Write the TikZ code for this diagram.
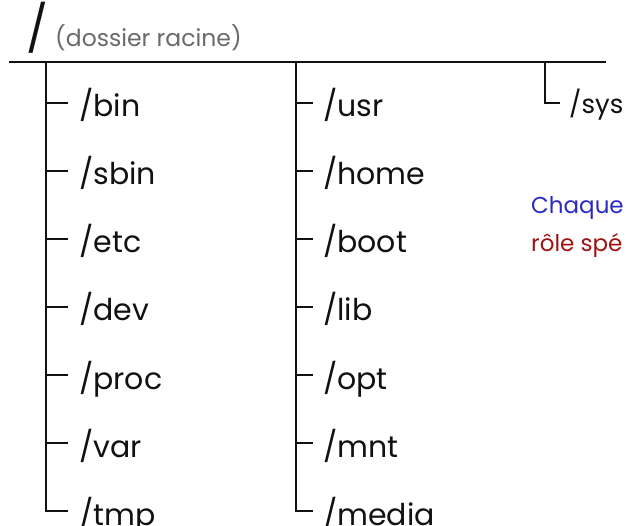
\documentclass[tikz,border=0pt]{standalone}
\usepackage{fontspec}
\setmainfont{Poppins}
\definecolor{ink}{HTML}{111111}
\definecolor{greytxt}{HTML}{6A6A6A}
\definecolor{bluetxt}{HTML}{2B2BC4}
\definecolor{redtxt}{HTML}{A01212}
\tikzset{
  dir/.style={anchor=base west, inner sep=0pt, font=\fontsize{30}{32}\selectfont, text=ink},
  trunk/.style={draw=ink, line width=1.8pt},
  tick/.style={draw=ink, line width=1.4pt},
  note/.style={anchor=base west, inner sep=0pt, font=\fontsize{23}{25}\selectfont}
}
\begin{document}
\begin{tikzpicture}[x=1pt,y=-1pt]
\useasboundingbox (0,0) rectangle (626,526);
\clip (0,0) rectangle (626,526);
\fill[white] (0,0) rectangle (626,526);
% root
\node[anchor=base west, inner sep=0pt, font=\fontsize{46}{48}\selectfont, text=ink] (root) at (26,46) {/};
\node[anchor=base west, inner sep=0pt, font=\fontsize{23.5}{25}\selectfont, text=greytxt] (rootlbl) at (55,47) {(dossier racine)};
\coordinate (hl) at (9,62);
\coordinate (hr) at (606,62);
\draw[trunk] (hl) -- (hr);
% column 1
\coordinate (c1) at (46,62);
\foreach \name/\i in {bin/0,sbin/1,etc/2,dev/3,proc/4,var/5,tmp/6}{
  \coordinate (t-\name) at (68,103+68*\i);
  \node[dir] (n-\name) at (79,117+68*\i) {/\name};
}
\draw[trunk] (c1) |- (t-tmp);
\foreach \name in {bin,sbin,etc,dev,proc,var}{
  \draw[tick] (c1 |- t-\name) -- (t-\name);
}
% column 2
\coordinate (c2) at (296,62);
\foreach \name/\i in {usr/0,home/1,boot/2,lib/3,opt/4,mnt/5,media/6}{
  \coordinate (t-\name) at (313,103+68*\i);
  \node[dir] (n-\name) at (323,117+68*\i) {/\name};
}
\draw[trunk] (c2) |- (t-media);
\foreach \name in {usr,home,boot,lib,opt,mnt}{
  \draw[tick] (c2 |- t-\name) -- (t-\name);
}
% column 3
\coordinate (c3) at (545,62);
\coordinate (t-sys) at (560,103);
\node[dir, font=\fontsize{26}{28}\selectfont] (n-sys) at (569,114) {/sys};
\draw[tick] (c3) |- (t-sys);
% note
\node[note, text=bluetxt] (note1) at (531,214) {Chaque};
\node[note, text=redtxt] (note2) at (531,252) {rôle spé};
\end{tikzpicture}
\end{document}
